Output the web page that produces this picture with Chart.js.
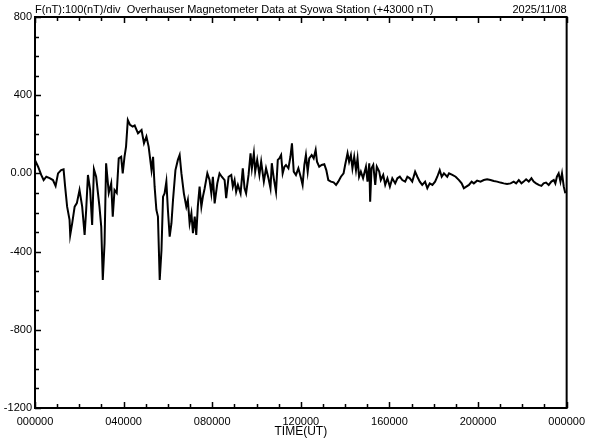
<!DOCTYPE html>
<html>
<head>
<meta charset="utf-8">
<script src="https://cdn.jsdelivr.net/npm/chart.js@4"></script>
<style>
html,body{margin:0;padding:0;background:#fff;}
canvas{display:block;}
</style>
</head>
<body>
<canvas id="c" width="592" height="440"></canvas>
<script>
// ---- Data (hours UT, F deviation in nT from 43000 nT) ----
const hours = [
0.00,0.14,0.28,0.39,0.51,0.66,0.81,0.93,1.04,1.18,1.29,1.36,1.45,1.56,1.59,1.68,1.79,1.89,2.01,2.13,
2.24,2.31,2.39,2.49,2.58,2.66,2.76,2.91,2.99,3.06,3.14,3.21,3.33,3.44,3.51,3.59,3.69,3.78,3.89,3.96,
4.04,4.11,4.19,4.29,4.41,4.50,4.65,4.81,4.92,5.03,5.13,5.26,5.33,5.40,5.48,5.55,5.63,5.71,5.78,5.85,
5.93,6.00,6.08,6.16,6.23,6.34,6.45,6.53,6.61,6.72,6.83,6.90,6.98,7.06,7.13,7.21,7.28,7.35,7.43,7.51,
7.58,7.66,7.78,7.88,7.96,8.03,8.11,8.23,8.33,8.43,8.56,8.63,8.74,8.86,8.93,9.01,9.08,9.16,9.28,9.38,
9.46,9.53,9.64,9.73,9.79,9.88,9.94,10.03,10.13,10.21,10.33,10.43,10.54,10.63,10.69,10.78,10.88,10.96,11.03,11.11,
11.18,11.26,11.33,11.44,11.53,11.60,11.68,11.78,11.89,12.01,12.08,12.16,12.23,12.31,12.38,12.49,12.58,12.67,12.73,12.83,
12.94,13.06,13.15,13.24,13.36,13.48,13.59,13.69,13.81,13.93,14.00,14.11,14.18,14.26,14.33,14.41,14.49,14.56,14.63,14.71,
14.81,14.94,15.01,15.09,15.13,15.19,15.27,15.36,15.43,15.54,15.61,15.72,15.81,15.91,16.02,16.13,16.26,16.36,16.47,16.58,
16.71,16.81,16.92,17.03,17.16,17.26,17.37,17.48,17.61,17.71,17.82,17.94,18.06,18.16,18.27,18.36,18.46,18.61,18.69,18.84,
18.99,19.14,19.26,19.36,19.47,19.59,19.71,19.81,19.96,20.11,20.26,20.41,20.56,20.71,20.86,21.01,21.16,21.31,21.47,21.61,
21.72,21.84,21.96,22.06,22.17,22.29,22.41,22.51,22.62,22.74,22.86,22.96,23.07,23.19,23.31,23.42,23.49,23.56,23.64,23.72,
23.79,23.87,23.94
];
const fValues = [
68,34,-8,-34,-17,-24,-34,-64,0,17,21,-68,-170,-238,-315,-254,-170,-152,-85,-170,
-315,-187,-8,-85,-264,21,-17,-170,-272,-545,-356,52,-100,-51,-221,-85,-100,77,85,0,
85,137,273,248,239,245,205,222,154,188,137,17,85,-68,-187,-221,-545,-392,-119,-102,
-42,-187,-324,-255,-136,17,69,94,0,-102,-170,-136,-255,-204,-306,-221,-315,-170,-68,-170,
-119,-76,0,-34,-102,-17,-153,-51,0,-17,-34,-127,-17,-8,-68,-34,-94,-59,-102,26,
-76,-102,-8,103,26,103,9,69,-8,60,-42,26,-25,-76,52,-25,-94,69,77,94,
0,34,43,26,85,154,9,-8,26,-25,-59,43,94,9,77,94,77,120,60,34,
43,47,17,-34,-42,-46,-59,-42,-17,0,43,103,60,94,26,85,17,77,-17,9,
-25,34,-42,52,-145,26,43,-59,34,9,-34,-8,-59,-25,-68,-25,-51,-25,-17,-34,
-42,-17,-25,-42,9,-17,-42,-59,-42,-76,-51,-59,-42,-17,17,-17,0,-17,0,-8,
-17,-34,-51,-76,-68,-59,-42,-51,-37,-42,-34,-30,-34,-39,-42,-47,-51,-54,-51,-42,
-51,-34,-51,-42,-30,-42,-25,-42,-51,-59,-64,-51,-47,-59,-42,-34,-51,-17,0,-42,
0,-68,-102
];
// ---- Tick labels ----
const xLabelHours = [0,4,8,12,16,20,24];
const xLabelTexts = ['000000','040000','080000','120000','160000','200000','000000'];
const yLabelValues = [800,400,0,-400,-800,-1200];
const yLabelTexts = ['800','400','0.00','-400','-800','-1200'];
const titleLeft = 'F(nT):100(nT)/div  Overhauser Magnetometer Data at Syowa Station (+43000 nT)';
const titleRight = '2025/11/08';
const xAxisTitle = 'TIME(UT)';

const points = hours.map((h,i)=>({x:h,y:fValues[i]}));
const FONT = "'Liberation Sans', Arial, sans-serif";

const framePlugin = {
  id:'frame',
  afterDraw(chart){
    const {ctx, chartArea:a, scales:{x,y}} = chart;
    ctx.save();
    ctx.strokeStyle = '#000';
    ctx.lineWidth = 2;
    ctx.strokeRect(a.left, a.top, a.right-a.left, a.bottom-a.top);
    ctx.lineWidth = 1.5;
    ctx.beginPath();
    // x ticks (hourly), inward on bottom and top
    for(let h=0; h<=24; h++){
      const px = Math.round(x.getPixelForValue(h))+0.5;
      const len = (h%4===0)?6:4;
      ctx.moveTo(px, a.bottom); ctx.lineTo(px, a.bottom-len);
      ctx.moveTo(px, a.top); ctx.lineTo(px, a.top+len);
    }
    // y ticks every 100 nT, inward on left
    for(let v=-1200; v<=800; v+=100){
      const py = Math.round(y.getPixelForValue(v))+0.5;
      const len = (v%400===0)?6:4;
      ctx.moveTo(a.left, py); ctx.lineTo(a.left+len, py);
    }
    ctx.stroke();
    // title texts
    ctx.fillStyle = '#000';
    ctx.font = '11px ' + FONT;
    ctx.textBaseline = 'alphabetic';
    ctx.textAlign = 'left';
    ctx.fillText(titleLeft, a.left, 13);
    ctx.textAlign = 'right';
    ctx.fillText(titleRight, a.right, 13);
    ctx.restore();
  }
};

Chart.defaults.font.family = FONT;
Chart.defaults.font.size = 11;
Chart.defaults.color = '#000';

new Chart(document.getElementById('c'), {
  type:'line',
  data:{datasets:[{data:points, borderColor:'#000', borderWidth:2, pointRadius:0, tension:0, fill:false}]},
  options:{
    responsive:false, animation:false, devicePixelRatio:1,
    layout:{padding:{top:17,right:24,left:0,bottom:0}},
    plugins:{legend:{display:false}, tooltip:{enabled:false}},
    scales:{
      x:{type:'linear', min:0, max:24,
         grid:{display:false, drawTicks:false}, border:{display:false},
         ticks:{stepSize:1, autoSkip:false, maxRotation:0, padding:7,
                callback:(v)=>{const i=xLabelHours.indexOf(v); return i>=0?xLabelTexts[i]:'';}},
         title:{display:true, text:xAxisTitle, padding:{top:0,bottom:1}, font:{size:12}},
         afterFit:(s)=>{s.height=32;}
      },
      y:{type:'linear', min:-1200, max:800,
         grid:{display:false, drawTicks:false}, border:{display:false},
         ticks:{stepSize:100, autoSkip:false, padding:3,
                callback:(v)=>{const i=yLabelValues.indexOf(v); return i>=0?yLabelTexts[i]:'';}},
         afterFit:(s)=>{s.width=35;}
      }
    }
  },
  plugins:[framePlugin]
});
</script>
</body>
</html>
